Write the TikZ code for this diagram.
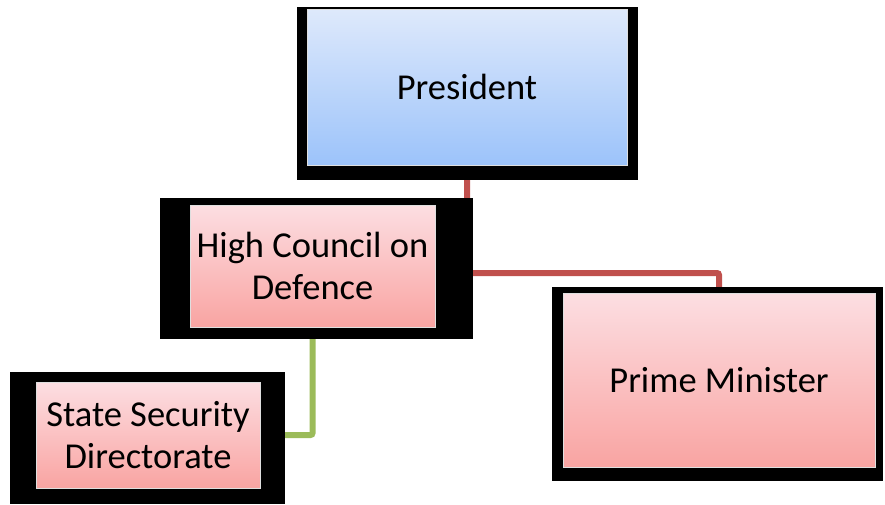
\documentclass[tikz,border=0pt]{standalone}
\usepackage{fontspec}
\setmainfont{Carlito}
\usetikzlibrary{calc}
\pgfdeclarelayer{background}
\pgfsetlayers{background,main}

\definecolor{blueTop}{RGB}{222,233,251}
\definecolor{blueBot}{RGB}{156,195,250}
\definecolor{pinkTop}{RGB}{252,222,226}
\definecolor{pinkBot}{RGB}{249,164,162}
\definecolor{redLink}{RGB}{192,80,77}
\definecolor{greenLink}{RGB}{155,187,89}

\tikzset{
  orgbox/.style={rectangle, draw=gray!25, line width=0.8pt, align=center,
    inner sep=0pt, font=\fontsize{36.5}{42}\selectfont, text=black},
  bluebox/.style={orgbox, top color=blueTop, bottom color=blueBot},
  pinkbox/.style={orgbox, top color=pinkTop, bottom color=pinkBot},
  frame/.style={fill=black},
  redline/.style={draw=redLink, line width=6pt, rounded corners=2pt},
  greenline/.style={draw=greenLink, line width=6pt, rounded corners=2pt}
}

\begin{document}
\begin{tikzpicture}[x=1pt, y=-1pt]
\useasboundingbox (0,0) rectangle (885,504);

% boxes
\node[bluebox, minimum width=320pt, minimum height=156pt] (P)  at (467,87)    {President};
\node[pinkbox, minimum width=245pt, minimum height=122pt] (HC) at (312.5,266) {High Council on\\Defence};
\node[pinkbox, minimum width=224pt, minimum height=106pt] (SS) at (148,435)   {State Security\\Directorate};
\node[pinkbox, minimum width=312pt, minimum height=174pt] (PM) at (719,380)   {Prime Minister};

\coordinate (pmJoin) at (719,273);

\begin{pgfonlayer}{background}
  % connectors, under the framed boxes
  \draw[redline] (P.south) |- (pmJoin) -- (PM.north);
  \draw[greenline] (HC.south) |- (SS.east);
  % heavy black frames
  \fill[frame] ($(P.north west)+(-10,-2)$)  rectangle ($(P.south east)+(11,15)$);
  \fill[frame] ($(HC.north west)+(-30,-7)$) rectangle ($(HC.south east)+(38,12)$);
  \fill[frame] ($(SS.north west)+(-26,-10)$) rectangle ($(SS.south east)+(25,16)$);
  \fill[frame] ($(PM.north west)+(-11,-6)$) rectangle ($(PM.south east)+(8,14)$);
\end{pgfonlayer}
\end{tikzpicture}
\end{document}
